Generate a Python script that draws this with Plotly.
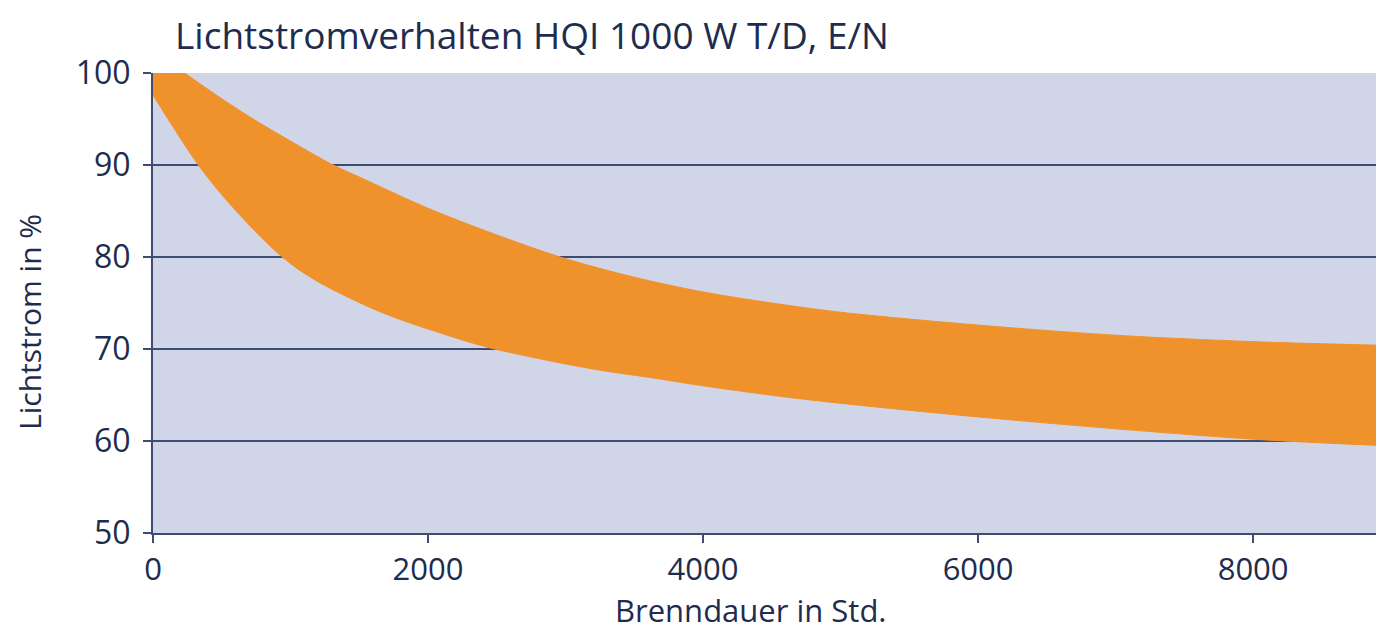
import plotly.graph_objects as go

# Brenndauer (h) and Lichtstrom (%) – upper and lower boundary of the band
hours_upper = [0, 230, 500, 750, 1000, 1310, 1500, 2000, 2500, 2960, 3500, 4000, 4500, 5000, 6000, 7000, 8000, 8950]
lum_upper   = [102.4, 100.0, 97.2, 94.8, 92.6, 90.0, 88.7, 85.3, 82.4, 80.0, 77.8, 76.2, 75.0, 74.0, 72.6, 71.5, 70.8, 70.4]

hours_lower = [0, 330, 580, 940, 1190, 1675, 2160, 2430, 2890, 3250, 3615, 4000, 4700, 6160, 8000, 8950]
lum_lower   = [97.6, 90.0, 85.4, 80.0, 77.4, 73.9, 71.4, 70.2, 68.7, 67.7, 66.9, 66.0, 64.6, 62.4, 60.2, 59.5]

x_ticks = [0, 2000, 4000, 6000, 8000]
y_ticks = [50, 60, 70, 80, 90, 100]

ORANGE = "#F0922C"
NAVY = "#1E2C4E"
GRID = "#3F4C72"
FONT = "Open Sans"

fig = go.Figure()
fig.add_trace(go.Scatter(x=hours_lower, y=lum_lower, mode="lines",
                         line=dict(color=ORANGE, width=1, shape="spline", smoothing=0.9),
                         hoverinfo="skip", showlegend=False))
fig.add_trace(go.Scatter(x=hours_upper, y=lum_upper, mode="lines",
                         line=dict(color=ORANGE, width=1, shape="spline", smoothing=0.9),
                         fill="tonexty", fillcolor=ORANGE,
                         hoverinfo="skip", showlegend=False))

fig.update_layout(
    width=1384, height=631,
    margin=dict(l=145, r=0, t=65, b=106),
    paper_bgcolor="white",
    plot_bgcolor="#D1D5E8",
    font=dict(family=FONT, color=NAVY),
    title=dict(text="Lichtstromverhalten HQI 1000 W T/D, E/N",
               x=167/1384, xanchor="left", y=1-28/631, yanchor="middle",
               font=dict(size=37, color=NAVY, family=FONT)),
    xaxis=dict(range=[0, 9010], tickvals=x_ticks, ticktext=[str(v) for v in x_ticks],
               showgrid=False, zeroline=False,
               showline=True, linecolor=GRID, linewidth=2,
               ticks="outside", ticklen=8, tickcolor=GRID, tickwidth=1.5,
               ticklabelstandoff=0,
               tickfont=dict(size=31, color=NAVY)),
    yaxis=dict(range=[50, 100], tickvals=y_ticks, ticktext=[str(v) for v in y_ticks],
               showgrid=True, gridcolor=GRID, gridwidth=1.5, zeroline=False,
               showline=True, linecolor=GRID, linewidth=2,
               ticks="outside", ticklen=8, tickcolor=GRID, tickwidth=1.5,
               ticklabelstandoff=6,
               tickfont=dict(size=32, color=NAVY)),
    annotations=[
        dict(text="Brenndauer in Std.", xref="paper", yref="paper",
             x=0.4826, y=-0.1674, xanchor="center", yanchor="middle",
             showarrow=False, font=dict(size=31, color=NAVY)),
        dict(text="Lichtstrom in %", xref="paper", yref="paper",
             x=-0.0993, y=0.4587, xanchor="center", yanchor="middle", textangle=-90,
             showarrow=False, font=dict(size=30, color=NAVY)),
    ],
)

fig.write_html("out.html")
